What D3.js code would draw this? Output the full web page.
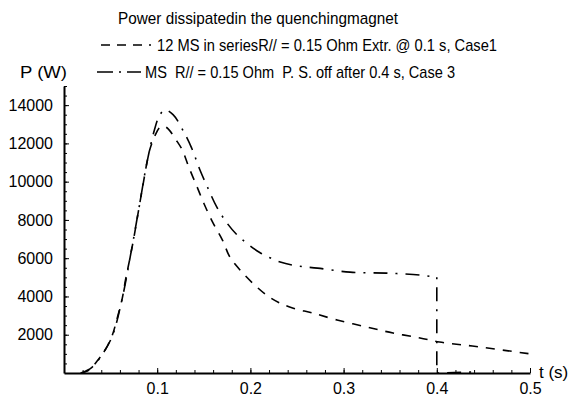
<!DOCTYPE html>
<html>
<head>
<meta charset="utf-8">
<script src="https://cdn.jsdelivr.net/npm/d3@7"></script>
<style>
  body { margin: 0; background: #fff; }
  svg { display: block; }
  text { font-family: "Liberation Sans", Arial, sans-serif; fill: #000; white-space: pre; }
</style>
</head>
<body>
<svg id="chart" width="571" height="399"></svg>
<script>
// case 1: 12 MS in series, extraction @ 0.1 s
const t1 = [0.018, 0.025, 0.03, 0.036, 0.042, 0.047, 0.052, 0.057, 0.0625, 0.066, 0.071, 0.0745, 0.08, 0.085, 0.089, 0.0925, 0.098, 0.103, 0.107, 0.112, 0.12, 0.127, 0.134, 0.143, 0.15, 0.16, 0.17, 0.178, 0.191, 0.207, 0.22, 0.232, 0.246, 0.267, 0.293, 0.325, 0.353, 0.382, 0.403, 0.446, 0.5];
const p1 = [0, 100, 300, 650, 1040, 1450, 2000, 2850, 3900, 4860, 6060, 6950, 8500, 9900, 11000, 11750, 12450, 12850, 12900, 12750, 12200, 11650, 10750, 9700, 8870, 7830, 6950, 6060, 5270, 4490, 3980, 3650, 3390, 3130, 2770, 2400, 2090, 1830, 1620, 1360, 1000];

// case 3: P.S. off after 0.4 s
const t3 = [0.018, 0.03, 0.042, 0.052, 0.0625, 0.071, 0.08, 0.089, 0.097, 0.102, 0.108, 0.117, 0.128, 0.137, 0.146, 0.154, 0.164, 0.175, 0.186, 0.196, 0.21, 0.232, 0.25, 0.272, 0.307, 0.346, 0.382, 0.4];
const p3 = [0, 300, 1040, 1950, 3900, 6060, 8500, 11000, 12700, 13400, 13750, 13500, 12650, 11750, 10600, 9710, 8670, 7830, 7200, 6790, 6300, 5800, 5600, 5480, 5270, 5220, 5120, 5000];
// switch-off step at 0.4 s, then ~zero
const t3off = [0.4, 0.4, 0.445];
const p3off = [5000, 0, 60];

const xTicks = [0.1, 0.2, 0.3, 0.4, 0.5];
const yTicks = [2000, 4000, 6000, 8000, 10000, 12000, 14000];

const titleText = "Power dissipatedin the quenchingmagnet";
const legend1 = "12 MS in seriesR// = 0.15 Ohm Extr. @ 0.1 s, Case1";
const legend3 = "MS  R// = 0.15 Ohm  P. S. off after 0.4 s, Case 3";

const svg = d3.select("#chart");
svg.append("rect").attr("width", 571).attr("height", 399).attr("fill", "#fff");

const x = d3.scaleLinear().domain([0, 0.5]).range([64, 530]);
const y = d3.scaleLinear().domain([0, 15000]).range([373, 86]);

// minor ticks
svg.append("g")
  .attr("transform", "translate(0,373)")
  .call(d3.axisBottom(x).tickValues(d3.range(1, 26).map(i => i * 0.02)).tickSize(-3).tickSizeOuter(0).tickFormat(""))
  .call(g => g.select(".domain").remove());
svg.append("g")
  .attr("transform", "translate(64,0)")
  .call(d3.axisLeft(y).tickValues(d3.range(1, 31).map(i => i * 500)).tickSize(-3).tickSizeOuter(0).tickFormat(""))
  .call(g => g.select(".domain").remove());

// major axes
const xAxis = svg.append("g")
  .attr("transform", "translate(0,373)")
  .call(d3.axisBottom(x).tickValues(xTicks).tickSize(-5).tickSizeOuter(0).tickPadding(10).tickFormat(d3.format(".1f")));
const yAxis = svg.append("g")
  .attr("transform", "translate(64,0)")
  .call(d3.axisLeft(y).tickValues(yTicks).tickSize(-5).tickSizeOuter(0).tickPadding(11).tickFormat(d => d));

[xAxis, yAxis].forEach(g => {
  g.select(".domain").attr("stroke", "#000").attr("stroke-width", 2);
  g.selectAll("text").style("font-size", "16px").attr("fill", "#000");
});
svg.selectAll(".tick line").attr("stroke", "#000").attr("stroke-width", 1);

// curves
const smooth = d3.line()
  .x(d => x(d[0]))
  .y(d => y(d[1]))
  .curve(d3.curveCatmullRom.alpha(0.5));
const straight = d3.line()
  .x(d => x(d[0]))
  .y(d => y(d[1]));

svg.append("path")
  .datum(d3.zip(t1, p1))
  .attr("d", smooth)
  .attr("fill", "none")
  .attr("stroke", "#000")
  .attr("stroke-width", 1.6)
  .attr("stroke-dasharray", "9,8");

svg.append("path")
  .datum(d3.zip(t3, p3))
  .attr("d", smooth)
  .attr("fill", "none")
  .attr("stroke", "#000")
  .attr("stroke-width", 1.6)
  .attr("stroke-dasharray", "14,8,2,8");

svg.append("path")
  .datum(d3.zip(t3off, p3off))
  .attr("d", straight)
  .attr("fill", "none")
  .attr("stroke", "#000")
  .attr("stroke-width", 1.6)
  .attr("stroke-dasharray", "2,8,14,8");

// title and legend
svg.append("text").attr("x", 118).attr("y", 24).style("font-size", "17px")
  .attr("textLength", 280).attr("lengthAdjust", "spacingAndGlyphs").text(titleText);

svg.append("line").attr("x1", 101).attr("x2", 151).attr("y1", 45).attr("y2", 45)
  .attr("stroke", "#000").attr("stroke-width", 1.5).attr("stroke-dasharray", "9,7");
svg.append("text").attr("x", 157).attr("y", 51).style("font-size", "17px")
  .attr("textLength", 340).attr("lengthAdjust", "spacingAndGlyphs").text(legend1);

svg.append("line").attr("x1", 97).attr("x2", 141).attr("y1", 72).attr("y2", 72)
  .attr("stroke", "#000").attr("stroke-width", 1.5).attr("stroke-dasharray", "16,6,2,6");
svg.append("text").attr("x", 145).attr("y", 78).style("font-size", "17px")
  .attr("textLength", 310).attr("lengthAdjust", "spacingAndGlyphs").text(legend3);

svg.append("text").attr("x", 20).attr("y", 78).style("font-size", "17px")
  .attr("textLength", 47).attr("lengthAdjust", "spacingAndGlyphs").text("P (W)");
svg.append("text").attr("x", 539).attr("y", 378).style("font-size", "17px").text("t (s)");
</script>
</body>
</html>
